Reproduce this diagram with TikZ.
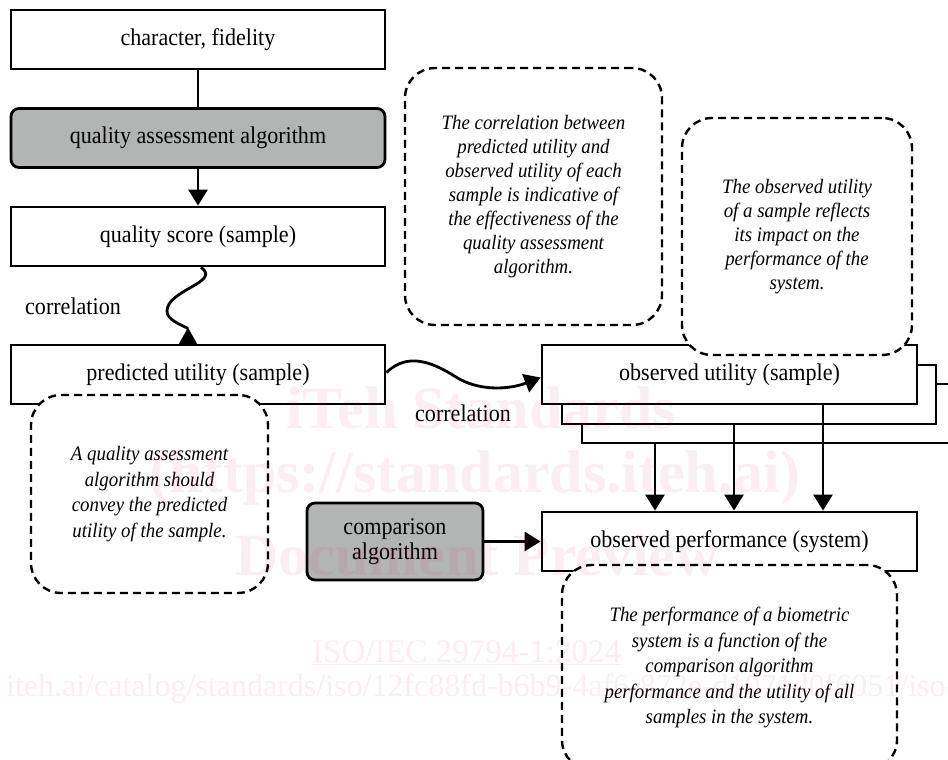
\documentclass[tikz,border=0pt]{standalone}
\usepackage{fontspec}
\setmainfont[FakeStretch=0.92]{Liberation Serif}
\newfontfamily\wmfont{Liberation Serif}
\usetikzlibrary{arrows.meta}
\definecolor{boxgray}{RGB}{179,181,181}
\definecolor{wmpink}{RGB}{214,40,90}
\begin{document}
\begin{tikzpicture}[x=1pt,y=-1pt,
  box/.style={draw, line width=2.8pt, fill=white, minimum width=374pt, minimum height=59pt, inner sep=0pt, font=\fontsize{24}{28}\selectfont},
  graybox/.style={box, fill=boxgray, rounded corners=8pt},
  note/.style={draw, dash pattern=on 8pt off 5pt, line width=2.4pt, fill=white, rounded corners=30pt, align=center, inner sep=0pt},
  notetext/.style={font=\fontsize{20.5}{24}\selectfont\itshape},
  conn/.style={line width=2.8pt},
  arr/.style={conn, -{Triangle[length=16pt,width=19pt]}},
  lbl/.style={font=\fontsize{24}{28}\selectfont, inner sep=0pt},
  wm/.style={text=wmpink, text opacity=0.08, inner sep=0pt}
]
\useasboundingbox (0,0) rectangle (948,760);
\fill[white] (0,0) rectangle (948,760);
\begin{scope}
\clip (0,0) rectangle (948,760);
% left column
\node[box] (b1) at (198,39.5) {character, fidelity};
\node[graybox] (b2) at (198,138) {quality assessment algorithm};
\node[box] (b3) at (198,236.5) {quality score (sample)};
\node[box] (b4) at (198,374.5) {predicted utility (sample)};
% observed utility stack
\node[box] (ou3) at (769,413.5) {};
\node[box] (ou2) at (749,394.5) {};
\node[box, minimum width=375pt] (ou) at (729.5,374.5) {observed utility (sample)};
\node[box, minimum width=375pt] (op) at (729.5,541.5) {observed performance (system)};
\node[graybox, minimum width=176pt, minimum height=77pt, align=center, font=\fontsize{24}{25}\selectfont] (ca) at (395,541.5) {comparison\\algorithm};
% connectors
\draw[conn] (b1) -- (b2);
\draw[arr] (b2) -- (b3);
\coordinate (tb) at ([xshift=-10pt]b4.north);
\coordinate (tp) at ([yshift=15pt]tb);
\draw[conn] ([xshift=3pt]b3.south) .. controls (222,282) and (167,290) .. (167,311) .. controls (167,320) and (180,324) .. (tp);
\fill ([xshift=-9.5pt,yshift=-1pt]tb) -- ([xshift=9.5pt,yshift=-1pt]tb) -- ([yshift=1pt]tp) -- cycle;
\node[lbl] (c1) at (73,306) {correlation};
\draw[arr] ([yshift=2pt]b4.east) .. controls (408,352) and (432,362) .. (456,377) .. controls (478,391) and (508,390) .. ([yshift=-3pt]ou.west);
\node[lbl] (c2) at (463,413) {correlation};
\coordinate (x1) at (655,0);
\coordinate (x2) at (734,0);
\coordinate (x3) at (823,0);
\draw[arr] (x1 |- ou3.south) -- (x1 |- op.north);
\draw[arr] (x2 |- ou2.south) -- (x2 |- op.north);
\draw[arr] (x3 |- ou.south) -- (x3 |- op.north);
\draw[arr] (ca.east) -- (op.west);
% notes
\node[note, minimum width=237pt, minimum height=198pt, font=\fontsize{20.5}{25.5}\selectfont\itshape] (na) at (149.5,494) {A quality assessment\\algorithm should\\convey the predicted\\utility of the sample.};
\node[note, minimum width=257pt, minimum height=257pt, notetext] (nb) at (533.5,196.5) {The correlation between\\predicted utility and\\observed utility of each\\sample is indicative of\\the effectiveness of the\\quality assessment\\algorithm.};
\node[note, minimum width=230pt, minimum height=237pt, notetext] (nc) at (797,236.5) {The observed utility\\of a sample reflects\\its impact on the\\performance of the\\system.};
\node[note, minimum width=335pt, minimum height=205pt, font=\fontsize{20.5}{25.5}\selectfont\itshape] (nd) at (729.5,667.5) {The performance of a biometric\\system is a function of the\\comparison algorithm\\performance and the utility of all\\samples in the system.};
% watermark
\node[wm, anchor=base, font=\wmfont\fontsize{60}{60}\selectfont\bfseries] (w1) at (481,428) {iTeh Standards};
\node[wm, anchor=base, font=\wmfont\fontsize{60}{60}\selectfont\bfseries] (w2) at (475,492) {(https://standards.iteh.ai)};
\node[wm, anchor=base, font=\wmfont\fontsize{60}{60}\selectfont\bfseries] (w3) at (477,575) {Document Preview};
\node[wm, anchor=base west, font=\wmfont\fontsize{33}{33}\selectfont] (w4) at (312,662) {\underline{ISO/IEC 29794-1:2024}};
\node[wm, anchor=base west, font=\wmfont\fontsize{32}{32}\selectfont] (w5) at (6,696) {iteh.ai/catalog/standards/iso/12fc88fd-b6b9-4af6-872e-d1071d0f6051/iso-};
\end{scope}
\end{tikzpicture}
\end{document}
